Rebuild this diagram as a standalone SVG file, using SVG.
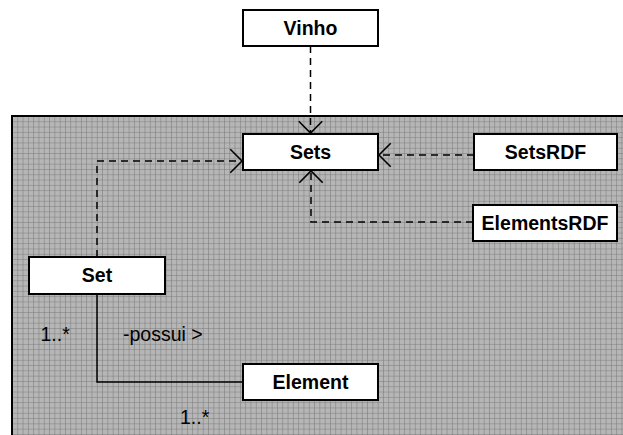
<svg xmlns="http://www.w3.org/2000/svg" width="623" height="435" viewBox="0 0 623 435">
<style>
.box{fill:#fff;stroke:#000;stroke-width:2}
.lbl{font-family:"Liberation Sans",Arial,sans-serif;font-weight:bold;font-size:19.5px;text-anchor:middle;fill:#000}
.txt{font-family:"Liberation Sans",Arial,sans-serif;font-size:19.5px;fill:#000}
.dep{fill:none;stroke:#000;stroke-width:1.5;stroke-dasharray:7 5}
.assoc{fill:none;stroke:#000;stroke-width:1.5}
</style>
<defs>
<pattern id="grid" x="12" y="116" width="5.3" height="5.3" patternUnits="userSpaceOnUse">
<rect width="5.3" height="5.3" fill="#b6b6b6"/>
<path d="M0,0H5.3M0,0V5.3" stroke="#767676" stroke-width="1"/>
</pattern>
<marker id="open" markerUnits="userSpaceOnUse" markerWidth="16" markerHeight="26" viewBox="-13 -12 15 24" refX="0" refY="0" orient="auto">
<path d="M-11,-11L0,0L-11,11" fill="none" stroke="#000" stroke-width="1.5"/>
</marker>
</defs>
<rect id="panel" x="12" y="116" width="615" height="325" fill="url(#grid)" stroke="#000" stroke-width="2"/>
<g id="connectors">
<path class="dep" d="M310.5,46V133" marker-end="url(#open)"/>
<path class="dep" d="M97,257V161H242" marker-end="url(#open)"/>
<path class="dep" d="M474,155H379" marker-end="url(#open)"/>
<path class="dep" d="M473,222H311V171" marker-end="url(#open)"/>
<path class="assoc" d="M97,294V382H243"/>
<text class="txt" x="40.5" y="341">1..*</text>
<text class="txt" x="123" y="341">-possui &gt;</text>
<text class="txt" x="180" y="424">1..*</text>
</g>
<g id="Vinho"><rect class="box" x="243" y="10" width="135" height="36"/><text class="lbl" x="310.5" y="35">Vinho</text></g>
<g id="Sets"><rect class="box" x="243" y="134" width="135" height="36"/><text class="lbl" x="310.5" y="159">Sets</text></g>
<g id="SetsRDF"><rect class="box" x="474" y="134" width="143" height="36"/><text class="lbl" x="545.5" y="159">SetsRDF</text></g>
<g id="ElementsRDF"><rect class="box" x="473" y="205" width="144" height="36"/><text class="lbl" x="545" y="230">ElementsRDF</text></g>
<g id="Set"><rect class="box" x="29" y="257" width="136" height="37"/><text class="lbl" x="97" y="282">Set</text></g>
<g id="Element"><rect class="box" x="243" y="364" width="135" height="36"/><text class="lbl" x="310.5" y="389">Element</text></g>
</svg>
